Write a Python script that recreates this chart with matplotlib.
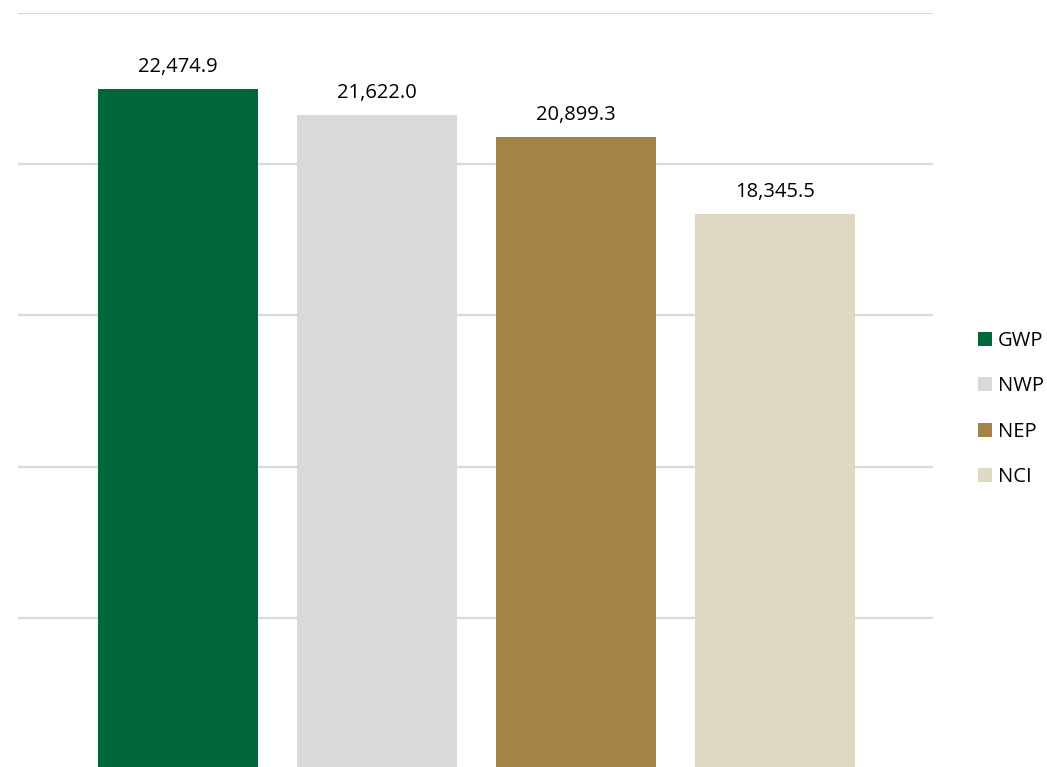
import matplotlib
matplotlib.use("Agg")
import matplotlib.pyplot as plt
from matplotlib.patches import Patch

# Series and values
series = ["GWP", "NWP", "NEP", "NCI"]
values = [22474.9, 21622.0, 20899.3, 18345.5]
colors = ["#00673A", "#D9D9D9", "#A58248", "#DFD9C3"]
y_ticks = [0, 5000, 10000, 15000, 20000, 25000]

plt.rcParams["font.family"] = ["Open Sans", "DejaVu Sans"]

W, H = 1047, 767
fig = plt.figure(figsize=(W / 100, H / 100), dpi=100)

left_px, right_px = 18, 933
top_px, zero_px = 13, 769.25
ax = fig.add_axes([left_px / W, 1 - zero_px / H,
                   (right_px - left_px) / W, (zero_px - top_px) / H])

x = list(range(len(series)))
bars = ax.bar(x, values, width=0.804, color=colors, zorder=3)

for xi, v in zip(x, values):
    ax.annotate(f"{v:,.1f}", (xi, v), xytext=(0, 9), textcoords="offset points",
                ha="center", va="bottom", fontsize=14.5, color="#000000")

ax.set_xlim(-0.804, 3.794)
ax.set_ylim(0, 25000)
ax.set_yticks(y_ticks)
ax.yaxis.grid(True, color="#D9D9D9", linewidth=1.6, zorder=0)
ax.tick_params(left=False, bottom=False, labelleft=False, labelbottom=False)
for s in ax.spines.values():
    s.set_visible(False)
ax.set_xticks([])

handles = [Patch(facecolor=c, edgecolor="none", label=s) for c, s in zip(colors, series)]
fig.legend(handles=handles, loc="center left", bbox_to_anchor=(970 / W, 1 - 409 / H),
           frameon=False, fontsize=14.5, handlelength=0.7, handleheight=0.7,
           handletextpad=0.3, labelspacing=1.27, borderaxespad=0)

fig.savefig("out.png", dpi=100)
